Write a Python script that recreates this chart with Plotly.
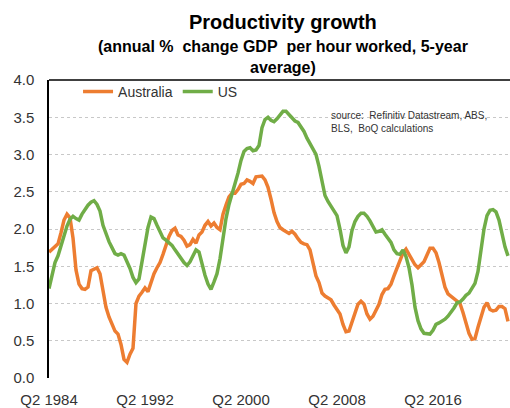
import plotly.graph_objects as go

# Quarterly series, 5-year average of annual % change in GDP per hour worked
start_year = 1984
start_quarter = 2

australia = [
    1.69, 1.73, 1.76, 1.80, 1.95, 2.12, 2.20, 2.15, 1.88, 1.45,
    1.26, 1.20, 1.19, 1.22, 1.44, 1.46, 1.48, 1.40, 1.18, 0.95,
    0.82, 0.73, 0.63, 0.59, 0.45, 0.25, 0.21, 0.32, 0.40, 1.00,
    1.10, 1.15, 1.21, 1.16, 1.28, 1.40, 1.48, 1.55, 1.66, 1.79,
    1.90, 1.98, 2.01, 1.92, 1.90, 1.85, 1.77, 1.79, 1.86, 1.81,
    1.92, 1.96, 2.05, 2.10, 2.04, 2.08, 2.02, 1.99, 2.20, 2.32,
    2.43, 2.48, 2.48, 2.53, 2.60, 2.61, 2.66, 2.64, 2.61, 2.70,
    2.71, 2.71, 2.66, 2.56, 2.40, 2.22, 2.10, 2.02, 1.99, 1.97,
    1.94, 1.97, 1.93, 1.87, 1.82, 1.80, 1.79, 1.72, 1.54, 1.37,
    1.28, 1.14, 1.10, 1.07, 1.05, 0.98, 0.92, 0.86, 0.72, 0.62,
    0.63, 0.74, 0.88, 0.99, 1.03, 0.99, 0.86, 0.79, 0.83, 0.90,
    0.99, 1.12, 1.19, 1.20, 1.26, 1.37, 1.48, 1.57, 1.68, 1.73,
    1.66, 1.57, 1.52, 1.48, 1.52, 1.56, 1.65, 1.74, 1.74, 1.68,
    1.55, 1.38, 1.22, 1.13, 1.10, 1.06, 1.03, 1.00, 0.88, 0.72,
    0.60, 0.52, 0.53, 0.68, 0.82, 0.95, 1.01, 0.92, 0.90, 0.91,
    0.96, 0.96, 0.93, 0.76,
]

us = [
    1.20, 1.40, 1.55, 1.64, 1.78, 1.92, 2.04, 2.13, 2.17, 2.14,
    2.12, 2.20, 2.27, 2.32, 2.36, 2.38, 2.33, 2.24, 2.05, 1.93,
    1.83, 1.75, 1.67, 1.65, 1.67, 1.65, 1.57, 1.47, 1.35, 1.28,
    1.33, 1.55, 1.82, 2.02, 2.16, 2.14, 2.05, 1.95, 1.88, 1.85,
    1.81, 1.78, 1.72, 1.66, 1.60, 1.55, 1.51, 1.56, 1.64, 1.72,
    1.69, 1.52, 1.38, 1.26, 1.19, 1.29, 1.40, 1.60, 1.90, 2.14,
    2.33, 2.47, 2.59, 2.75, 2.92, 3.04, 3.08, 3.09, 3.05, 3.06,
    3.12, 3.36, 3.47, 3.50, 3.46, 3.44, 3.48, 3.53, 3.58, 3.58,
    3.54, 3.49, 3.45, 3.43, 3.37, 3.31, 3.22, 3.14, 3.08, 3.00,
    2.84, 2.62, 2.45, 2.37, 2.31, 2.26, 2.18, 2.00, 1.78, 1.68,
    1.76, 1.98, 2.10, 2.17, 2.21, 2.21, 2.17, 2.11, 2.03, 1.96,
    1.97, 1.99, 1.93, 1.87, 1.82, 1.72, 1.67, 1.66, 1.72, 1.63,
    1.48, 1.25, 0.95, 0.77, 0.66, 0.60, 0.59, 0.59, 0.64, 0.72,
    0.74, 0.76, 0.79, 0.83, 0.88, 0.94, 1.01, 1.02, 1.06, 1.11,
    1.14, 1.20, 1.27, 1.43, 1.72, 2.00, 2.18, 2.25, 2.26, 2.23,
    2.12, 1.94, 1.76, 1.64,
]

tick_labels = ["Q2 1984", "Q2 1992", "Q2 2000", "Q2 2008", "Q2 2016"]
y_ticks = [0.0, 0.5, 1.0, 1.5, 2.0, 2.5, 3.0, 3.5, 4.0]

# Quarter labels, e.g. "Q2 1984", "Q3 1984", ...
quarters = []
for i in range(len(australia)):
    q = (start_quarter - 1 + i) % 4 + 1
    yr = start_year + (start_quarter - 1 + i) // 4
    quarters.append(f"Q{q} {yr}")

ORANGE = "#ED7D31"
GREEN = "#70AD47"
FONT = "Liberation Sans, Arial, sans-serif"

fig = go.Figure()
fig.add_trace(go.Scatter(x=quarters, y=australia, name="Australia", mode="lines",
                         line=dict(color=ORANGE, width=3.5)))
fig.add_trace(go.Scatter(x=quarters, y=us, name="US", mode="lines",
                         line=dict(color=GREEN, width=3.5)))

fig.update_layout(
    width=510, height=408,
    margin=dict(l=49, r=0, t=80, b=27),
    paper_bgcolor="white", plot_bgcolor="white",
    font=dict(family=FONT, color="#333333", size=15),
    showlegend=True,
    legend=dict(orientation="h", x=0.063, y=0.96, xanchor="left", yanchor="middle",
                font=dict(size=14, color="#333333"), bgcolor="rgba(0,0,0,0)",
                itemwidth=30, tracegroupgap=0),
    xaxis=dict(type="category", range=[0, 153.67],
               tickmode="array", tickvals=tick_labels, ticktext=tick_labels,
               showgrid=False, zeroline=False, showline=False,
               ticks="outside", ticklen=8, tickcolor="rgba(0,0,0,0)",
               tickfont=dict(size=15, color="#333333"), fixedrange=True),
    yaxis=dict(range=[0, 4.0], tickmode="array", tickvals=y_ticks,
               ticktext=[f"{v:.1f}" for v in y_ticks],
               showgrid=True, gridcolor="#c8c8c8", griddash="dot", gridwidth=1,
               zeroline=False, showline=True, linecolor="#000000", linewidth=1.5,
               ticks="outside", ticklen=10, tickcolor="rgba(0,0,0,0)",
               tickfont=dict(size=15, color="#333333"), fixedrange=True),
    shapes=[dict(type="line", xref="paper", yref="paper", x0=0, x1=1, y0=1, y1=1,
                 line=dict(color="#000000", width=1.5))],
    annotations=[
        dict(text="<b>Productivity growth</b>", xref="paper", yref="paper",
             x=0.507, y=1.193, xanchor="center", yanchor="middle", showarrow=False,
             font=dict(size=20, color="#000000")),
        dict(text="<b>(annual %\u00a0 change GDP\u00a0 per hour worked, 5-year<br>average)</b>",
             xref="paper", yref="paper", x=0.507, y=1.078, xanchor="center",
             yanchor="middle", showarrow=False,
             font=dict(size=16, color="#000000")),
        dict(text="source:\u00a0 Refinitiv Datastream, ABS,<br>BLS,\u00a0 BoQ calculations",
             xref="paper", yref="paper", x=0.607, y=0.905, xanchor="left",
             yanchor="top", align="left", showarrow=False,
             font=dict(size=10, color="#333333")),
    ],
)

fig.write_html("out.html")
